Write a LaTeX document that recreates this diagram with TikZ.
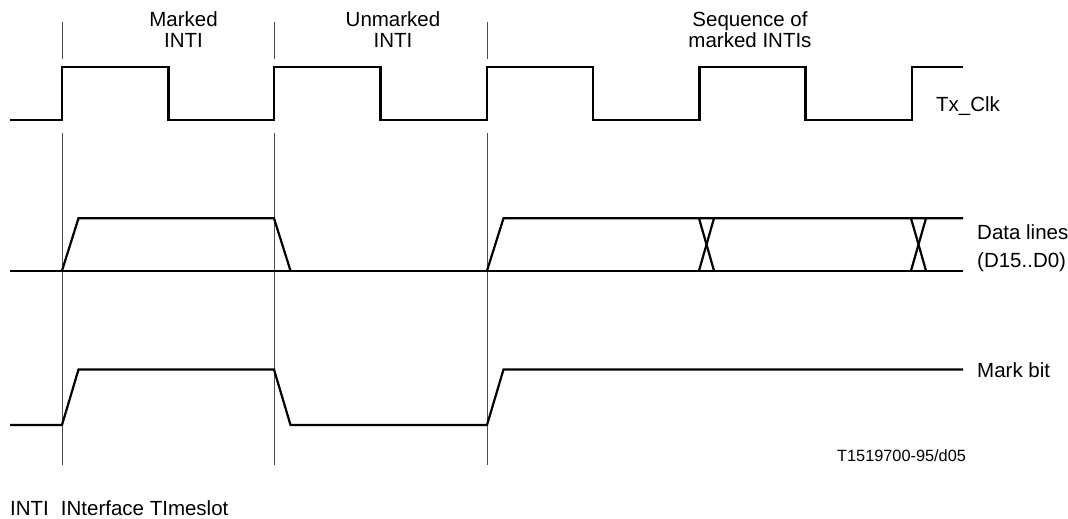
\documentclass[tikz,border=0pt]{standalone}
\usepackage{fontspec}
\setmainfont{Liberation Sans}
\begin{document}
\begin{tikzpicture}[x=1pt,y=-1pt,
  sig/.style={line width=2.2pt, line join=miter, line cap=butt},
  guide/.style={line width=0.9pt, black!70},
  lbl/.style={inner sep=0pt, font=\fontsize{20.5}{21}\selectfont},
  lbl2/.style={inner sep=0pt, font=\fontsize{20.5}{28.5}\selectfont},
  small/.style={inner sep=0pt, font=\fontsize{16.3}{18}\selectfont}]
\useasboundingbox (0,0) rectangle (1068,519);
% guide lines
\foreach \gx in {62,274,487} {
  \draw[guide] (\gx,21.7) -- (\gx,59.3);
  \draw[guide] (\gx,133) -- (\gx,465);
}
% clock
\draw[sig] (10,120) -- (62,120) -- (62,66.7) -- (168.5,66.7) -- (168.5,120) -- (274,120) -- (274,66.7) -- (380.5,66.7) -- (380.5,120) -- (487,120) -- (487,66.7) -- (593,66.7) -- (593,120) -- (699.5,120) -- (699.5,66.7) -- (805.5,66.7) -- (805.5,120) -- (912,120) -- (912,66.7) -- (963,66.7);
% data lines
\draw[sig] (10,270.7) -- (963,270.7);
\draw[sig] (62,270.7) -- (78.5,218.3) -- (274,218.3) -- (290.5,270.7);
\draw[sig] (487,270.7) -- (503.5,218.3) -- (963,218.3);
\draw[sig] (699,218.3) -- (714,270.7);
\draw[sig] (699,270.7) -- (714,218.3);
\draw[sig] (911,218.3) -- (926,270.7);
\draw[sig] (911,270.7) -- (926,218.3);
% mark bit
\draw[sig] (10,425) -- (62,425) -- (78.5,369.5) -- (274,369.5) -- (290.5,425) -- (487,425) -- (503.5,369.5) -- (963,369.5);
% labels
\node[lbl, align=center] (marked) at (183.5,29.5) {Marked\\INTI};
\node[lbl, align=center] (unmarked) at (393,29.5) {Unmarked\\INTI};
\node[lbl, align=center] (seq) at (750,29.5) {Sequence of\\marked INTIs};
\node[lbl, anchor=base west] (txclk) at (936,111.7) {Tx\_Clk};
\node[lbl2, anchor=west, align=left] (data) at (977,248.4) {Data lines\\(D15..D0)};
\node[lbl, anchor=base west] (markbit) at (977,377.3) {Mark bit};
\node[small, anchor=base west] (code) at (837,461) {T1519700-95/d05};
\node[lbl, anchor=base west] (legend) at (10,515.5) {INTI\hspace{12pt}INterface TImeslot};
\end{tikzpicture}
\end{document}
